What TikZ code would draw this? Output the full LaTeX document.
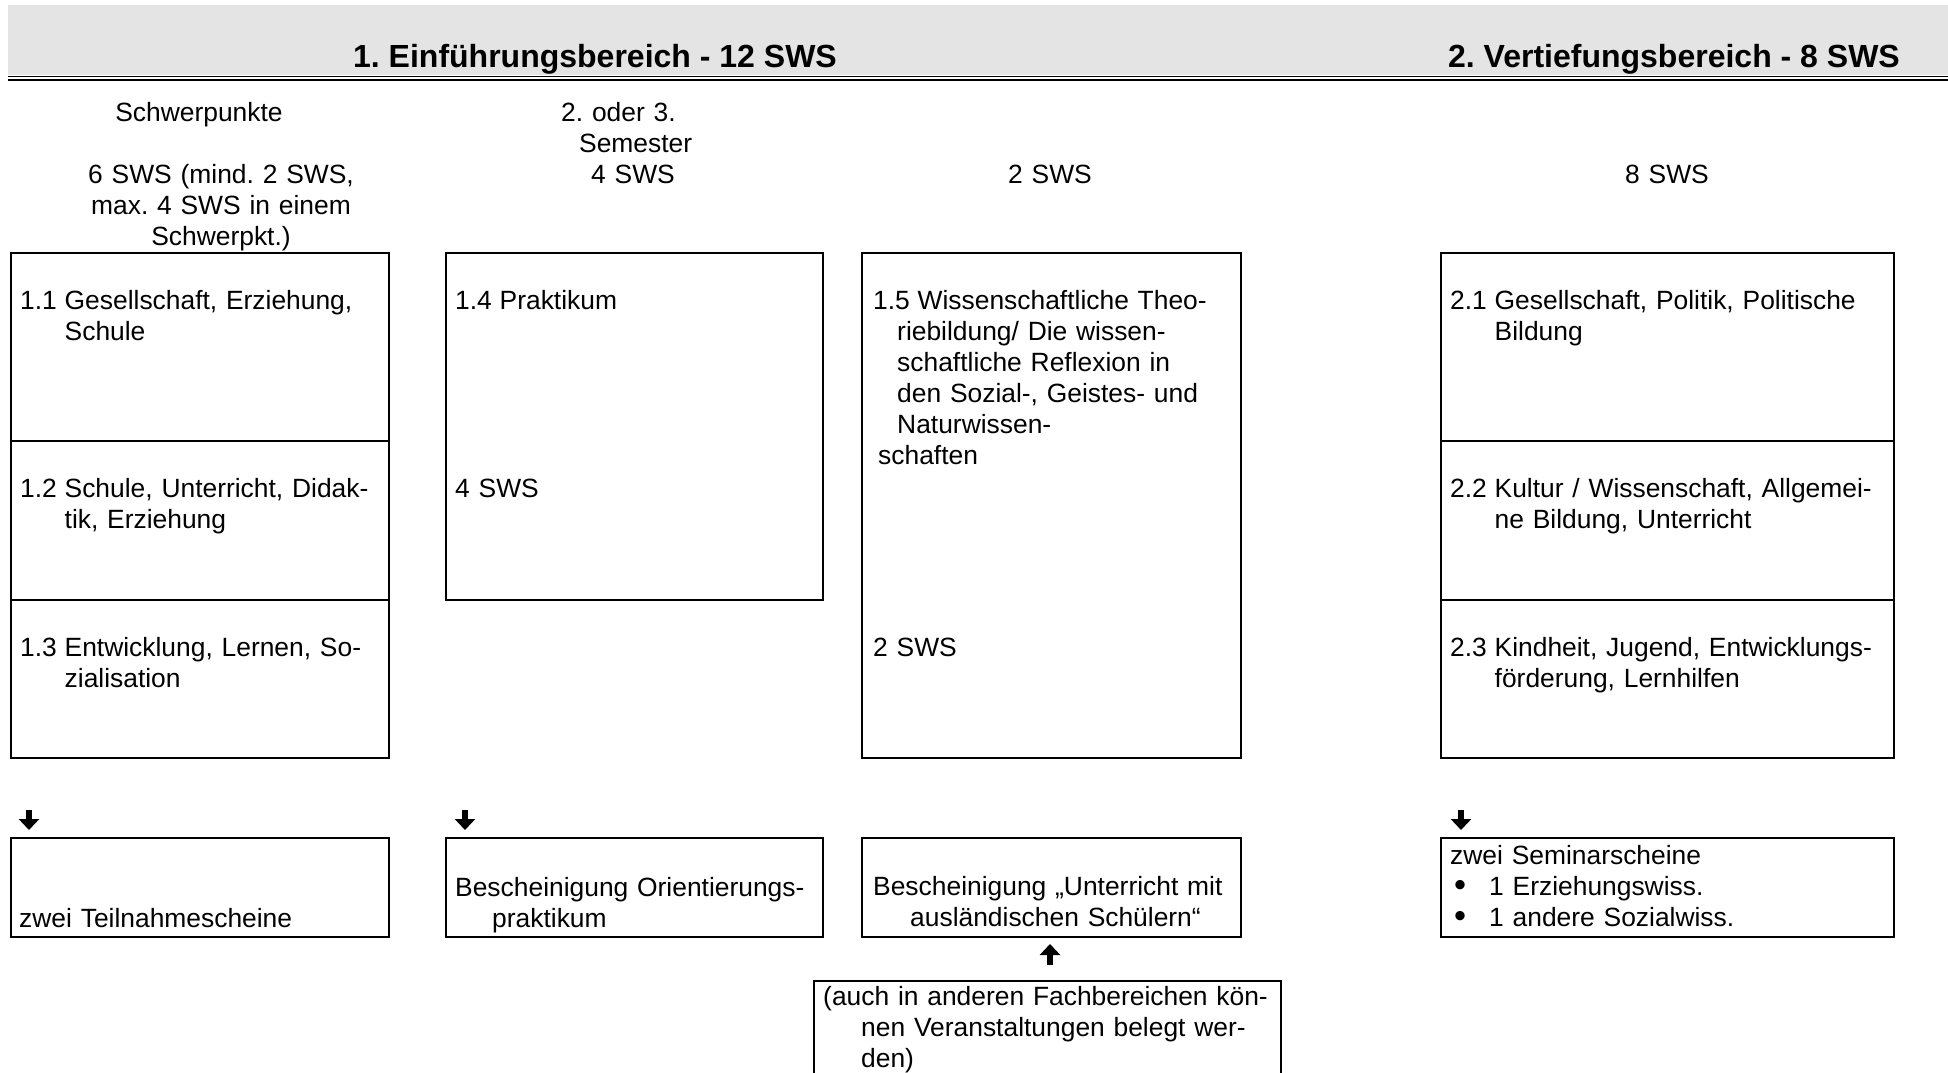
\documentclass[tikz,border=0pt]{standalone}
\usepackage{fontspec}
\usepackage{graphicx}
\setmainfont{Liberation Sans}
\frenchspacing
\usetikzlibrary{arrows.meta}
\definecolor{hdrgray}{RGB}{228,228,228}
\tikzset{
  box/.style={draw=black, line width=2pt, inner sep=0pt, anchor=north west},
  txt/.style={anchor=base west, inner sep=0pt, text width=620pt, align=left, font=\fontsize{26.4}{31}\selectfont\frenchspacing},
  ctxt/.style={anchor=base, inner sep=0pt, text width=400pt, align=center, font=\fontsize{26.4}{31}\selectfont\frenchspacing},
  hdr/.style={inner sep=0pt, font=\fontsize{32}{38}\selectfont\bfseries\frenchspacing},
  glyarrow/.style={-{Triangle[width=20pt,length=11pt]}, line width=5.5pt},
}
\newcommand\lbl[1]{\makebox[44.5pt][l]{#1}}
\newcommand\ind{\hspace*{44.5pt}}
\newcommand\bul{\makebox[39pt][l]{\hspace*{4pt}\smash{\raisebox{-1pt}{\scalebox{1.3}{\textbullet}}}}}
\begin{document}
\begin{tikzpicture}[x=1pt,y=-1pt]
\useasboundingbox (0,0) rectangle (1948,1073);
\clip (0,0) rectangle (1948,1073);
% header band
\fill[hdrgray] (8,5) rectangle (1948,75.3);
\draw[line width=1.8pt] (8,76.5) -- (1948,76.5);
\draw[line width=2.2pt] (8,79.8) -- (1948,79.8);
\node[hdr, anchor=base] (h1) at (595,67) {1. Einführungsbereich - 12 SWS};
\node[hdr, anchor=base east] (h2) at (1900,67) {2. Vertiefungsbereich - 8 SWS};
% column heads
\node[ctxt] (ch1) at (199,121) {Schwerpunkte};
\node[ctxt] (ch1b) at (221,183) {6 SWS (mind. 2 SWS,\\max. 4 SWS in einem\\Schwerpkt.)};
\node[txt] (ch2) at (561,121) {2. oder 3.\\\hspace*{18pt}Semester};
\node[ctxt] (ch2b) at (633,183) {4 SWS};
\node[ctxt] (ch3) at (1050,183) {2 SWS};
\node[ctxt] (ch4) at (1667,183) {8 SWS};
% boxes
\node[box, minimum width=378pt, minimum height=188pt] (b11) at (10,252) {};
\node[box, minimum width=378pt, minimum height=159pt] (b12) at (10,440) {};
\node[box, minimum width=378pt, minimum height=158pt] (b13) at (10,599) {};
\node[box, minimum width=377pt, minimum height=347pt] (b14) at (445,252) {};
\node[box, minimum width=379pt, minimum height=505pt] (b15) at (861,252) {};
\node[box, minimum width=453pt, minimum height=188pt] (b21) at (1440,252) {};
\node[box, minimum width=453pt, minimum height=159pt] (b22) at (1440,440) {};
\node[box, minimum width=453pt, minimum height=158pt] (b23) at (1440,599) {};
\node[box, minimum width=378pt, minimum height=99pt] (c1) at (10,837) {};
\node[box, minimum width=377pt, minimum height=99pt] (c2) at (445,837) {};
\node[box, minimum width=379pt, minimum height=99pt] (c3) at (861,837) {};
\node[box, minimum width=453pt, minimum height=99pt] (c4) at (1440,837) {};
\node[box, minimum width=467pt, minimum height=200pt] (d1) at (813,980) {};
% box texts
\node[txt] (t11) at (20,309) {\lbl{1.1}Gesellschaft, Erziehung,\\\ind Schule};
\node[txt] (t12) at (20,497) {\lbl{1.2}Schule, Unterricht, Didak-\\\ind tik, Erziehung};
\node[txt] (t13) at (20,656) {\lbl{1.3}Entwicklung, Lernen, So-\\\ind zialisation};
\node[txt] (t14) at (455,309) {\lbl{1.4}Praktikum};
\node[txt] (t14b) at (455,497) {4 SWS};
\node[txt] (t15) at (873,309) {\lbl{1.5}Wissenschaftliche Theo-\\\hspace*{24pt}riebildung/ Die wissen-\\\hspace*{24pt}schaftliche Reflexion in\\\hspace*{24pt}den Sozial-, Geistes- und\\\hspace*{24pt}Naturwissen-\\\hspace*{5pt}schaften};
\node[txt] (t15b) at (873,656) {2 SWS};
\node[txt] (t21) at (1450,309) {\lbl{2.1}Gesellschaft, Politik, Politische\\\ind Bildung};
\node[txt] (t22) at (1450,497) {\lbl{2.2}Kultur / Wissenschaft, Allgemei-\\\ind ne Bildung, Unterricht};
\node[txt] (t23) at (1450,656) {\lbl{2.3}Kindheit, Jugend, Entwicklungs-\\\ind förderung, Lernhilfen};
\node[txt] (u1) at (19,927) {zwei Teilnahmescheine};
\node[txt] (u2) at (455,896) {Bescheinigung Orientierungs-\\\hspace*{37pt}praktikum};
\node[txt] (u3) at (873,895) {Bescheinigung „Unterricht mit\\\hspace*{37pt}ausländischen Schülern“};
\node[txt] (u4) at (1450,864) {zwei Seminarscheine\\\bul 1 Erziehungswiss.\\\bul 1 andere Sozialwiss.};
\node[txt] (v1) at (823,1005) {(auch in anderen Fachbereichen kön-\\\hspace*{38pt}nen Veranstaltungen belegt wer-\\\hspace*{38pt}den)};
% arrows
\coordinate (a1s) at (29,810);   \coordinate (a1e) at (29,830);
\coordinate (a2s) at (465,810);  \coordinate (a2e) at (465,830);
\coordinate (a4s) at (1461,810); \coordinate (a4e) at (1461,830);
\coordinate (a3s) at (1050,965); \coordinate (a3e) at (1050,944);
\draw[glyarrow] (a1s) -- (a1e);
\draw[glyarrow] (a2s) -- (a2e);
\draw[glyarrow] (a4s) -- (a4e);
\draw[glyarrow] (a3s) -- (a3e);
\end{tikzpicture}
\end{document}
